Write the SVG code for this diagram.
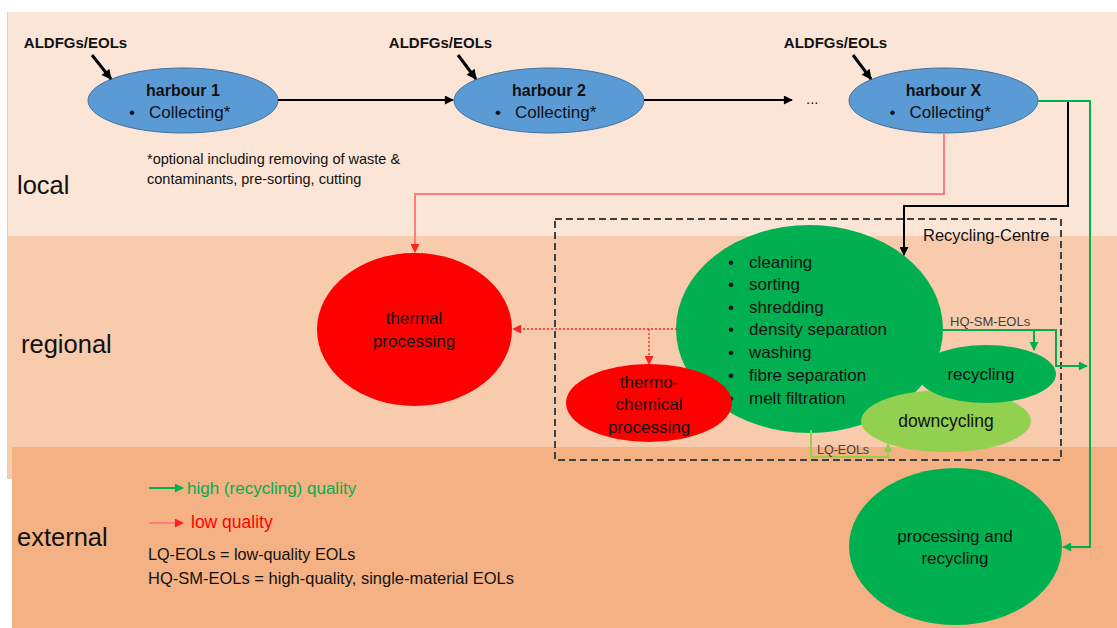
<svg xmlns="http://www.w3.org/2000/svg" width="1117" height="628" viewBox="0 0 1117 628">
<defs>
<marker id="ab" viewBox="0 0 10 10" refX="9" refY="5" markerWidth="10" markerHeight="9" markerUnits="userSpaceOnUse" orient="auto"><path d="M0,0 L10,5 L0,10 z" fill="#000"/></marker>
<marker id="abig" viewBox="0 0 10 10" refX="9" refY="5" markerWidth="11" markerHeight="10" markerUnits="userSpaceOnUse" orient="auto"><path d="M0,0 L10,5 L0,10 z" fill="#000"/></marker>
<marker id="ag" viewBox="0 0 10 10" refX="9" refY="5" markerWidth="10" markerHeight="9" markerUnits="userSpaceOnUse" orient="auto"><path d="M0,0 L10,5 L0,10 z" fill="#00b050"/></marker>
<marker id="alg" viewBox="0 0 10 10" refX="9" refY="5" markerWidth="10" markerHeight="9" markerUnits="userSpaceOnUse" orient="auto"><path d="M0,0 L10,5 L0,10 z" fill="#92d050"/></marker>
<marker id="ar" viewBox="0 0 10 10" refX="9" refY="5" markerWidth="10" markerHeight="9" markerUnits="userSpaceOnUse" orient="auto"><path d="M0,0 L10,5 L0,10 z" fill="#ff2020"/></marker>
</defs>
<style>
text{font-family:"Liberation Sans",Arial,sans-serif;fill:#111}
.ald{font-size:15px;font-weight:bold;text-anchor:middle}
.hn{font-size:16px;font-weight:bold;text-anchor:middle}
.hc{font-size:17px}
.lvl{font-size:25.5px}
.t17{font-size:17px;text-anchor:middle}
.bl{font-size:17px}
.harb{fill:#5b9bd5;stroke:#41719c;stroke-width:1}
.blk{fill:none;stroke:#000;stroke-width:2}
.thick{fill:none;stroke:#000;stroke-width:3}
.grn{fill:none;stroke:#00b050;stroke-width:2}
.lgrn{fill:none;stroke:#92d050;stroke-width:2}
.red{fill:none;stroke:#ff7c80;stroke-width:2}
.dot{fill:none;stroke:#ff2020;stroke-width:1.3;stroke-dasharray:2,2}
.box{fill:none;stroke:#404040;stroke-width:2;stroke-dasharray:7,4}
.small{font-size:13px;fill:#404040}
</style>
<g id="background">
<rect x="7" y="208" width="1110" height="270" fill="#f8cbad"/>
<rect x="8" y="12" width="1109" height="224" fill="#fbe5d6"/>
<rect x="12" y="447" width="1105" height="181" fill="#f4b183"/>
<line x1="7.5" y1="12" x2="7.5" y2="478" stroke="#d9d2cc" stroke-width="1"/>
<line x1="7" y1="478.5" x2="12" y2="478.5" stroke="#d9d2cc" stroke-width="1"/>
</g>
<g id="labels">
<text class="lvl" x="17" y="194">local</text>
<text class="lvl" x="21" y="353">regional</text>
<text class="lvl" x="17" y="546">external</text>
<text x="147" y="164" style="font-size:14.5px">*optional including removing of waste &amp;</text>
<text x="147" y="184" style="font-size:14.5px">contaminants, pre-sorting, cutting</text>
<text x="806" y="104" style="font-size:15px">...</text>
</g>
<g id="recycling-centre-box">
<rect class="box" x="555" y="219" width="506" height="241"/>
<text x="923" y="241" style="font-size:16.5px">Recycling-Centre</text>
</g>
<g id="inputs">
<text class="ald" x="75.5" y="48">ALDFGs/EOLs</text>
<text class="ald" x="440.5" y="48">ALDFGs/EOLs</text>
<text class="ald" x="835.5" y="48">ALDFGs/EOLs</text>
</g>
<g id="harbour1">
<ellipse class="harb" cx="183" cy="100.5" rx="95" ry="32.5"/>
<text class="hn" x="183" y="96">harbour 1</text>
<text class="hc" x="129" y="118">•</text><text class="hc" x="149" y="118">Collecting*</text>
</g>
<g id="harbour2">
<ellipse class="harb" cx="549" cy="100.5" rx="95" ry="32.5"/>
<text class="hn" x="549" y="96">harbour 2</text>
<text class="hc" x="495" y="118">•</text><text class="hc" x="515" y="118">Collecting*</text>
</g>
<g id="harbourX">
<ellipse class="harb" cx="943.5" cy="100.5" rx="94.5" ry="32.5"/>
<text class="hn" x="943.5" y="96">harbour X</text>
<text class="hc" x="889.5" y="118">•</text><text class="hc" x="909.5" y="118">Collecting*</text>
</g>
<g id="thermal">
<ellipse cx="414.5" cy="329.5" rx="97.5" ry="76.5" fill="#ff0000"/>
<text class="t17" x="414" y="324">thermal</text>
<text class="t17" x="414" y="347">processing</text>
</g>
<g id="centre-main">
<ellipse cx="809.5" cy="329" rx="133.5" ry="104" fill="#00b050"/>
<text class="bl" x="728" y="268">•</text><text class="bl" x="749" y="268">cleaning</text>
<text class="bl" x="728" y="290">•</text><text class="bl" x="749" y="290">sorting</text>
<text class="bl" x="728" y="313">•</text><text class="bl" x="749" y="313">shredding</text>
<text class="bl" x="728" y="335">•</text><text class="bl" x="749" y="335">density separation</text>
<text class="bl" x="728" y="358">•</text><text class="bl" x="749" y="358">washing</text>
<text class="bl" x="728" y="381">•</text><text class="bl" x="749" y="381">fibre separation</text>
<text class="bl" x="728" y="404">•</text><text class="bl" x="749" y="404">melt filtration</text>
</g>
<g id="thermochemical">
<ellipse cx="649" cy="403" rx="83" ry="39" fill="#ff0000"/>
<text class="t17" x="649" y="388">thermo-</text>
<text class="t17" x="649" y="410">chemical</text>
<text class="t17" x="649" y="433">processing</text>
</g>
<g id="downcycling">
<ellipse cx="946" cy="421" rx="85" ry="31" fill="#92d050"/>
<text class="t17" x="946" y="427" style="font-size:17.5px">downcycling</text>
</g>
<g id="recycling">
<ellipse cx="986.5" cy="374" rx="69.5" ry="29" fill="#00b050"/>
<text class="t17" x="981" y="380">recycling</text>
</g>
<g id="external-processing">
<ellipse cx="955.5" cy="546.5" rx="106.5" ry="78.5" fill="#00b050"/>
<text class="t17" x="955" y="542">processing and</text>
<text class="t17" x="955" y="564">recycling</text>
</g>
<g id="connectors">
<line class="thick" x1="92" y1="55" x2="111" y2="79" marker-end="url(#abig)"/>
<line class="thick" x1="458" y1="55" x2="476" y2="79" marker-end="url(#abig)"/>
<line class="thick" x1="853" y1="55" x2="871" y2="79" marker-end="url(#abig)"/>
<line class="blk" x1="278" y1="100" x2="453" y2="100" marker-end="url(#ab)"/>
<line class="blk" x1="644" y1="100" x2="792" y2="100" marker-end="url(#ab)"/>
<polyline class="red" points="944,133 944,194 415,194 415,252" marker-end="url(#ar)"/>
<polyline class="blk" points="1068,101 1068,206 904,206 904,255" marker-end="url(#ab)"/>
<polyline class="grn" points="1038,101 1090,101 1090,547 1063,547" marker-end="url(#ag)"/>
<line class="dot" x1="677" y1="329" x2="513" y2="329" marker-end="url(#ar)"/>
<line class="dot" x1="649" y1="329" x2="649" y2="364" marker-end="url(#ar)"/>
<polyline class="grn" points="943,330 1056,330 1056,366 1087,366" marker-end="url(#ag)"/>
<line class="grn" x1="1034" y1="330" x2="1034" y2="350" marker-end="url(#ag)"/>
<polyline class="lgrn" points="811,430 811,457 888,457 888,444" marker-end="url(#alg)"/>
<text x="950" y="326" class="small">HQ-SM-EOLs</text>
<text x="817" y="454" class="small" style="font-size:12.5px">LQ-EOLs</text>
</g>
<g id="legend">
<line class="grn" x1="149" y1="488" x2="183" y2="488" marker-end="url(#ag)"/>
<text x="187" y="494" style="font-size:17px;fill:#00b050">high (recycling) quality</text>
<line class="red" x1="149" y1="523" x2="183" y2="523" marker-end="url(#ar)"/>
<text x="191" y="528" style="font-size:17.5px;fill:#ff0000">low quality</text>
<text x="148" y="560" style="font-size:16.2px">LQ-EOLs = low-quality EOLs</text>
<text x="148" y="584" style="font-size:16.5px">HQ-SM-EOLs = high-quality, single-material EOLs</text>
</g>
</svg>
